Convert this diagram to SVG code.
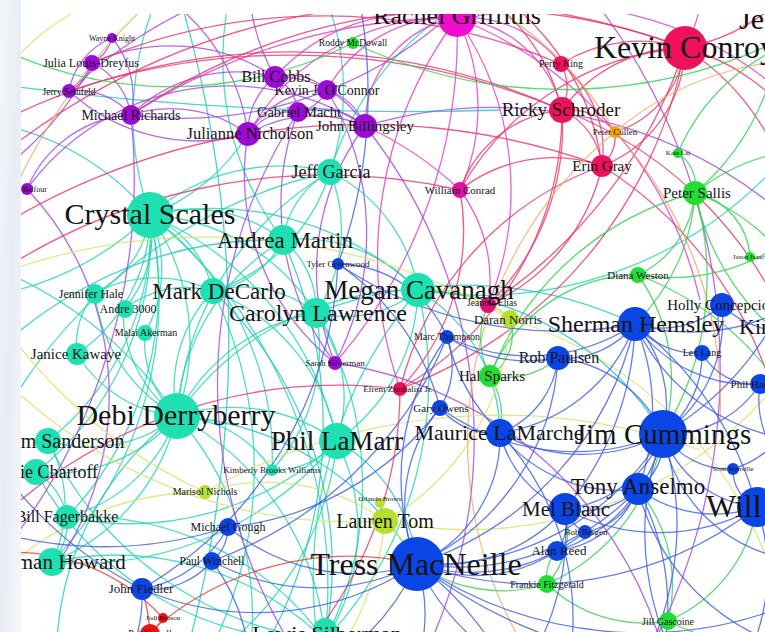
<svg xmlns="http://www.w3.org/2000/svg" width="765" height="632" viewBox="0 0 765 632">
<defs>
<clipPath id="frame"><rect x="21" y="14" width="744" height="618"/></clipPath>
<linearGradient id="margin" x1="0" y1="0" x2="1" y2="1">
<stop offset="0" stop-color="#f4f6fa"/><stop offset="0.5" stop-color="#e8ecf4"/><stop offset="1" stop-color="#f6f7fa"/>
</linearGradient>
<style>
.e path{fill:none;stroke-width:1.3;opacity:.8}
.t{stroke:#22d6b2}.c{stroke:#1cc6c6}.p{stroke:#a445e0}.m{stroke:#e03cc8}.k{stroke:#e8356c}.o{stroke:#f2aa6a}.g{stroke:#32d050}.y{stroke:#d6e468}.b{stroke:#3d5ce4}.r{stroke:#ee3a2a}
.nd text{font-family:"Liberation Serif","Times New Roman",serif;fill:#141414;text-anchor:middle}
.cP{fill:#9d0ad6}.cT{fill:#1fe0b2}.cB{fill:#0a46e6}.cK{fill:#f0115c}.cM{fill:#f20bd0}.cG{fill:#22dd33}.cY{fill:#b6e02e}.cO{fill:#f0a010}.cR{fill:#ee1111}
</style>
</defs>
<rect x="0" y="0" width="765" height="632" fill="#ffffff"/>
<rect x="0" y="0" width="21" height="632" fill="url(#margin)"/>
<g clip-path="url(#frame)">
<g id="edges" class="e">
<path class="t" d="M150 215A150 150 0 0 1 283 240"/>
<path class="t" d="M150 215A110 110 0 0 1 213 291"/>
<path class="t" d="M150 215A210 210 0 0 1 316 313"/>
<path class="t" d="M150 215A300 300 0 0 1 418 290"/>
<path class="t" d="M150 215A220 220 0 0 1 177 416"/>
<path class="t" d="M150 215A100 100 0 0 1 95 293"/>
<path class="t" d="M150 215A110 110 0 0 1 123 310"/>
<path class="t" d="M150 215A170 170 0 0 1 77 354"/>
<path class="t" d="M150 215A200 200 0 0 1 330 172"/>
<path class="t" d="M150 215A320 320 0 0 1 337 441"/>
<path class="t" d="M150 215A270 270 0 0 1 48 441"/>
<path class="t" d="M150 215A300 300 0 0 1 36 472"/>
<path class="t" d="M150 215A130 130 0 0 1 145 333"/>
<path class="t" d="M150 215A330 330 0 0 1 67 517"/>
<path class="t" d="M150 215A380 380 0 0 1 52 562"/>
<path class="t" d="M150 215A300 300 0 0 1 272 470"/>
<path class="t" d="M150 215A300 300 0 0 1 190 -60"/>
<path class="t" d="M150 215A300 300 0 0 1 -60 300"/>
<path class="t" d="M150 215A480 480 0 0 1 325 640"/>
<path class="c" d="M150 215A260 260 0 0 0 -40 120"/>
<path class="t" d="M177 416A140 140 0 0 1 213 291"/>
<path class="t" d="M177 416A190 190 0 0 1 316 313"/>
<path class="t" d="M177 416A290 290 0 0 1 418 290"/>
<path class="t" d="M177 416A220 220 0 0 1 283 240"/>
<path class="t" d="M177 416A180 180 0 0 1 337 441"/>
<path class="t" d="M177 416A130 130 0 0 1 77 354"/>
<path class="t" d="M177 416A140 140 0 0 1 48 441"/>
<path class="t" d="M177 416A160 160 0 0 1 36 472"/>
<path class="t" d="M177 416A160 160 0 0 1 67 517"/>
<path class="t" d="M177 416A210 210 0 0 1 52 562"/>
<path class="t" d="M177 416A280 280 0 0 1 325 640"/>
<path class="t" d="M177 416A160 160 0 0 1 95 293"/>
<path class="t" d="M177 416A100 100 0 0 1 145 333"/>
<path class="t" d="M177 416A130 130 0 0 1 123 310"/>
<path class="t" d="M177 416A120 120 0 0 1 272 470"/>
<path class="t" d="M177 416A310 310 0 0 1 330 172"/>
<path class="t" d="M177 416A300 300 0 0 1 240 700"/>
<path class="c" d="M177 416A300 300 0 0 0 60 700"/>
<path class="c" d="M177 416A300 300 0 0 1 417 564"/>
<path class="t" d="M177 416A400 400 0 0 0 -60 250"/>
<path class="t" d="M283 240A90 90 0 0 1 330 172"/>
<path class="t" d="M283 240A160 160 0 0 1 418 290"/>
<path class="t" d="M283 240A90 90 0 0 1 316 313"/>
<path class="t" d="M283 240A95 95 0 0 1 213 291"/>
<path class="t" d="M330 172A160 160 0 0 1 418 290"/>
<path class="t" d="M330 172A150 150 0 0 1 316 313"/>
<path class="t" d="M330 172A180 180 0 0 1 213 291"/>
<path class="t" d="M418 290A115 115 0 0 1 316 313"/>
<path class="t" d="M418 290A190 190 0 0 1 337 441"/>
<path class="t" d="M316 313A140 140 0 0 1 337 441"/>
<path class="t" d="M213 291A115 115 0 0 1 316 313"/>
<path class="t" d="M213 291A200 200 0 0 1 337 441"/>
<path class="t" d="M337 441A200 200 0 0 1 325 640"/>
<path class="t" d="M337 441A330 330 0 0 1 52 562"/>
<path class="t" d="M337 441A300 300 0 0 1 67 517"/>
<path class="t" d="M418 290A380 380 0 0 1 325 640"/>
<path class="t" d="M316 313A340 340 0 0 1 325 640"/>
<path class="c" d="M213 291A380 380 0 0 1 325 640"/>
<path class="t" d="M48 441A130 130 0 0 1 52 562"/>
<path class="t" d="M36 472A70 70 0 0 1 67 517"/>
<path class="t" d="M67 517A60 60 0 0 1 52 562"/>
<path class="t" d="M77 354A80 80 0 0 1 95 293"/>
<path class="t" d="M123 310A100 100 0 0 1 213 291"/>
<path class="t" d="M95 293A130 130 0 0 1 213 291"/>
<path class="t" d="M418 290A400 400 0 0 0 790 150"/>
<path class="t" d="M330 172A250 250 0 0 0 300 -50"/>
<path class="t" d="M283 240A300 300 0 0 1 240 -40"/>
<path class="t" d="M316 313A180 180 0 0 1 272 470"/>
<path class="t" d="M337 441A80 80 0 0 1 272 470"/>
<path class="t" d="M52 562A300 300 0 0 1 325 640"/>
<path class="t" d="M67 517A300 300 0 0 1 325 640"/>
<path class="c" d="M36 472A320 320 0 0 0 325 640"/>
<path class="t" d="M48 441A350 350 0 0 0 325 640"/>
<path class="c" d="M337 441A160 160 0 0 1 417 564"/>
<path class="c" d="M418 290A170 170 0 0 1 500 433"/>
<path class="c" d="M418 290A300 300 0 0 1 663 434"/>
<path class="c" d="M316 313A400 400 0 0 1 635 324"/>
<path class="t" d="M150 215A200 200 0 0 0 248 134"/>
<path class="t" d="M337 441A300 300 0 0 1 120 700"/>
<path class="t" d="M213 291A400 400 0 0 1 180 700"/>
<path class="c" d="M283 240A450 450 0 0 1 230 700"/>
<path class="t" d="M418 290A450 450 0 0 0 330 700"/>
<path class="t" d="M330 172A500 500 0 0 0 -50 560"/>
<path class="c" d="M283 240A400 400 0 0 0 -60 420"/>
<path class="t" d="M330 172A300 300 0 0 1 620 -40"/>
<path class="c" d="M-40 79A3000 3000 0 0 0 500 110"/>
<path class="c" d="M168 -40A1200 1200 0 0 1 190 640"/>
<path class="p" d="M92 63A40 40 0 0 1 69 91"/>
<path class="p" d="M92 63A70 70 0 0 1 131 115"/>
<path class="p" d="M69 91A70 70 0 0 1 131 115"/>
<path class="p" d="M112 38A40 40 0 0 1 92 63"/>
<path class="p" d="M112 38A90 90 0 0 1 131 115"/>
<path class="p" d="M112 38A70 70 0 0 0 69 91"/>
<path class="p" d="M131 115A130 130 0 0 1 248 134"/>
<path class="p" d="M248 134A70 70 0 0 1 275 77"/>
<path class="p" d="M248 134A55 55 0 0 1 298 112"/>
<path class="p" d="M248 134A130 130 0 0 1 365 126"/>
<path class="p" d="M248 134A90 90 0 0 1 327 90"/>
<path class="p" d="M275 77A55 55 0 0 1 327 90"/>
<path class="p" d="M275 77A45 45 0 0 1 298 112"/>
<path class="p" d="M275 77A100 100 0 0 1 365 126"/>
<path class="p" d="M327 90A40 40 0 0 1 298 112"/>
<path class="p" d="M327 90A60 60 0 0 1 365 126"/>
<path class="p" d="M298 112A70 70 0 0 1 365 126"/>
<path class="p" d="M131 115A150 150 0 0 1 275 77"/>
<path class="p" d="M92 63A190 190 0 0 1 275 77"/>
<path class="p" d="M69 91A190 190 0 0 0 248 134"/>
<path class="p" d="M27 189A250 250 0 0 1 365 126"/>
<path class="p" d="M27 189A120 120 0 0 1 131 115"/>
<path class="p" d="M335 363A240 240 0 0 1 365 126"/>
<path class="p" d="M335 363A280 280 0 0 0 327 90"/>
<path class="p" d="M335 363A240 240 0 0 1 248 134"/>
<path class="p" d="M335 363A260 260 0 0 1 298 112"/>
<path class="p" d="M248 134A200 200 0 0 0 40 -40"/>
<path class="p" d="M275 77A200 200 0 0 1 250 -40"/>
<path class="p" d="M365 126A450 450 0 0 1 790 220"/>
<path class="p" d="M365 126A500 500 0 0 1 400 700"/>
<path class="p" d="M298 112A500 500 0 0 0 330 700"/>
<path class="p" d="M131 115A600 600 0 0 1 -40 600"/>
<path class="p" d="M92 63A300 300 0 0 1 -50 200"/>
<path class="p" d="M131 115A400 400 0 0 0 500 -40"/>
<path class="p" d="M69 91A500 500 0 0 1 440 -40"/>
<path class="p" d="M335 363A400 400 0 0 1 660 640"/>
<path class="p" d="M560 -40A600 600 0 0 1 620 700"/>
<path class="p" d="M27 189A300 300 0 0 1 60 560"/>
<path class="m" d="M457 18A200 200 0 0 1 460 190"/>
<path class="m" d="M457 18A230 230 0 0 0 248 134"/>
<path class="m" d="M457 18A110 110 0 0 0 365 126"/>
<path class="m" d="M457 18A140 140 0 0 0 327 90"/>
<path class="m" d="M457 18A190 190 0 0 0 275 77"/>
<path class="m" d="M457 18A300 300 0 0 1 488 305"/>
<path class="m" d="M457 18A400 400 0 0 0 400 389"/>
<path class="m" d="M457 18A120 120 0 0 1 562 110"/>
<path class="m" d="M457 18A120 120 0 0 1 561 64"/>
<path class="m" d="M457 18A350 350 0 0 1 790 100"/>
<path class="m" d="M457 18A200 200 0 0 0 600 -50"/>
<path class="m" d="M457 18A200 200 0 0 0 300 -40"/>
<path class="m" d="M457 18A500 500 0 0 1 335 363"/>
<path class="m" d="M457 18A400 400 0 0 1 700 300"/>
<path class="m" d="M457 18A600 600 0 0 0 131 115"/>
<path class="m" d="M460 190A150 150 0 0 1 488 305"/>
<path class="m" d="M460 190A350 350 0 0 0 365 126"/>
<path class="k" d="M685 48A150 150 0 0 0 561 64"/>
<path class="k" d="M685 48A150 150 0 0 0 562 110"/>
<path class="k" d="M685 48A130 130 0 0 1 602 166"/>
<path class="k" d="M685 48A100 100 0 0 1 615 132"/>
<path class="k" d="M561 64A50 50 0 0 1 562 110"/>
<path class="k" d="M562 110A70 70 0 0 1 602 166"/>
<path class="k" d="M561 64A110 110 0 0 1 602 166"/>
<path class="k" d="M562 110A60 60 0 0 1 615 132"/>
<path class="k" d="M602 166A40 40 0 0 0 615 132"/>
<path class="k" d="M685 48A200 200 0 0 1 800 130"/>
<path class="k" d="M685 48A250 250 0 0 1 800 260"/>
<path class="k" d="M685 48A150 150 0 0 0 700 -50"/>
<path class="k" d="M685 48A200 200 0 0 0 800 -20"/>
<path class="k" d="M562 110A200 200 0 0 0 400 -40"/>
<path class="k" d="M602 166A250 250 0 0 0 430 -40"/>
<path class="k" d="M685 48A280 280 0 0 0 460 190"/>
<path class="k" d="M562 110A120 120 0 0 0 460 190"/>
<path class="k" d="M602 166A150 150 0 0 0 460 190"/>
<path class="k" d="M685 48A700 700 0 0 0 -50 200"/>
<path class="k" d="M562 110A650 650 0 0 0 -50 150"/>
<path class="k" d="M602 166A700 700 0 0 0 -50 260"/>
<path class="k" d="M400 389A320 320 0 0 0 562 110"/>
<path class="k" d="M400 389A320 320 0 0 1 602 166"/>
<path class="k" d="M400 389A230 230 0 0 0 460 190"/>
<path class="k" d="M488 305A250 250 0 0 0 562 110"/>
<path class="k" d="M488 305A200 200 0 0 0 602 166"/>
<path class="k" d="M685 48A500 500 0 0 1 488 305"/>
<path class="k" d="M685 48A450 450 0 0 1 400 389"/>
<path class="k" d="M602 166A400 400 0 0 1 780 420"/>
<path class="k" d="M562 110A400 400 0 0 1 800 360"/>
<path class="k" d="M685 48A600 600 0 0 0 131 115"/>
<path class="k" d="M561 64A600 600 0 0 0 92 63"/>
<path class="k" d="M562 110A700 700 0 0 0 69 91"/>
<path class="k" d="M-40 300A600 600 0 0 1 460 190"/>
<path class="k" d="M-40 560A500 500 0 0 1 400 389"/>
<path class="k" d="M400 389A400 400 0 0 1 250 700"/>
<path class="o" d="M615 132A300 300 0 0 1 800 60"/>
<path class="o" d="M615 132A350 350 0 0 0 360 -40"/>
<path class="o" d="M615 132A400 400 0 0 1 720 420"/>
<path class="o" d="M-40 420A600 600 0 0 1 200 -40"/>
<path class="o" d="M615 132A400 400 0 0 0 520 640"/>
<path class="g" d="M695 193A40 40 0 0 0 678 153"/>
<path class="g" d="M695 193A70 70 0 0 1 750 257"/>
<path class="g" d="M695 193A100 100 0 0 1 638 275"/>
<path class="g" d="M695 193A200 200 0 0 1 800 150"/>
<path class="g" d="M695 193A200 200 0 0 1 800 280"/>
<path class="g" d="M695 193A250 250 0 0 0 800 350"/>
<path class="g" d="M695 193A250 250 0 0 0 780 -30"/>
<path class="g" d="M695 193A300 300 0 0 0 490 376"/>
<path class="g" d="M638 275A160 160 0 0 0 490 376"/>
<path class="g" d="M695 193A300 300 0 0 1 663 434"/>
<path class="g" d="M695 193A200 200 0 0 1 635 324"/>
<path class="g" d="M638 275A180 180 0 0 1 663 434"/>
<path class="g" d="M638 275A200 200 0 0 0 800 230"/>
<path class="g" d="M638 275A300 300 0 0 1 800 420"/>
<path class="g" d="M353 43A400 400 0 0 1 -50 20"/>
<path class="g" d="M353 43A500 500 0 0 0 800 30"/>
<path class="g" d="M490 376A50 50 0 0 0 510 319"/>
<path class="g" d="M490 376A80 80 0 0 1 488 305"/>
<path class="g" d="M490 376A80 80 0 0 1 500 433"/>
<path class="g" d="M490 376A80 80 0 0 0 558 358"/>
<path class="g" d="M547 584A40 40 0 0 1 557 551"/>
<path class="g" d="M547 584A80 80 0 0 0 565 509"/>
<path class="g" d="M547 584A150 150 0 0 1 417 564"/>
<path class="g" d="M547 584A140 140 0 0 0 668 621"/>
<path class="g" d="M668 621A150 150 0 0 0 638 489"/>
<path class="g" d="M668 621A150 150 0 0 0 757 507"/>
<path class="g" d="M668 621A200 200 0 0 0 800 640"/>
<path class="g" d="M547 584A200 200 0 0 0 663 434"/>
<path class="g" d="M678 153A200 200 0 0 1 800 40"/>
<path class="y" d="M385 521A150 150 0 0 1 417 564"/>
<path class="y" d="M385 521A200 200 0 0 0 205 492"/>
<path class="y" d="M385 521A300 300 0 0 1 300 700"/>
<path class="y" d="M385 521A250 250 0 0 0 510 319"/>
<path class="y" d="M510 319A120 120 0 0 0 418 290"/>
<path class="y" d="M510 319A40 40 0 0 0 488 305"/>
<path class="y" d="M205 492A500 500 0 0 1 -40 250"/>
<path class="y" d="M205 492A300 300 0 0 0 -40 620"/>
<path class="y" d="M385 521A500 500 0 0 1 -40 330"/>
<path class="y" d="M510 319A600 600 0 0 0 -40 290"/>
<path class="y" d="M510 319A400 400 0 0 1 780 600"/>
<path class="y" d="M-20 120A200 200 0 0 1 150 -10"/>
<path class="y" d="M205 492A600 600 0 0 1 700 450"/>
<path class="y" d="M385 521A400 400 0 0 0 780 380"/>
<path class="b" d="M417 564A170 170 0 0 0 565 509"/>
<path class="b" d="M417 564A250 250 0 0 0 638 489"/>
<path class="b" d="M417 564A270 270 0 0 0 663 434"/>
<path class="b" d="M417 564A140 140 0 0 0 500 433"/>
<path class="b" d="M417 564A150 150 0 0 0 557 551"/>
<path class="b" d="M417 564A180 180 0 0 0 585 532"/>
<path class="b" d="M417 564A150 150 0 0 1 440 408"/>
<path class="b" d="M417 564A240 240 0 0 1 447 337"/>
<path class="b" d="M417 564A240 240 0 0 0 558 358"/>
<path class="b" d="M417 564A330 330 0 0 0 635 324"/>
<path class="b" d="M417 564A360 360 0 0 0 757 507"/>
<path class="b" d="M417 564A220 220 0 0 1 212 561"/>
<path class="b" d="M417 564A290 290 0 0 1 142 589"/>
<path class="b" d="M417 564A200 200 0 0 1 228 527"/>
<path class="b" d="M417 564A160 160 0 0 1 400 700"/>
<path class="b" d="M417 564A250 250 0 0 0 600 700"/>
<path class="b" d="M417 564A400 400 0 0 0 800 600"/>
<path class="b" d="M417 564A250 250 0 0 1 250 700"/>
<path class="b" d="M417 564A500 500 0 0 0 800 660"/>
<path class="b" d="M417 564A300 300 0 0 1 520 700"/>
<path class="b" d="M663 434A60 60 0 0 1 638 489"/>
<path class="b" d="M663 434A120 120 0 0 1 565 509"/>
<path class="b" d="M663 434A110 110 0 0 0 757 507"/>
<path class="b" d="M663 434A120 120 0 0 0 635 324"/>
<path class="b" d="M663 434A130 130 0 0 0 558 358"/>
<path class="b" d="M663 434A170 170 0 0 1 500 433"/>
<path class="b" d="M663 434A80 80 0 0 0 733 469"/>
<path class="b" d="M663 434A100 100 0 0 0 702 353"/>
<path class="b" d="M663 434A110 110 0 0 0 760 384"/>
<path class="b" d="M663 434A140 140 0 0 0 722 305"/>
<path class="b" d="M663 434A150 150 0 0 0 800 560"/>
<path class="b" d="M663 434A280 280 0 0 0 700 700"/>
<path class="b" d="M663 434A160 160 0 0 1 557 551"/>
<path class="b" d="M663 434A230 230 0 0 1 440 408"/>
<path class="b" d="M663 434A300 300 0 0 0 800 260"/>
<path class="b" d="M663 434A300 300 0 0 1 620 700"/>
<path class="b" d="M500 433A90 90 0 0 0 558 358"/>
<path class="b" d="M500 433A170 170 0 0 0 635 324"/>
<path class="b" d="M500 433A70 70 0 0 1 440 408"/>
<path class="b" d="M500 433A110 110 0 0 0 565 509"/>
<path class="b" d="M500 433A150 150 0 0 0 638 489"/>
<path class="b" d="M500 433A270 270 0 0 1 560 700"/>
<path class="b" d="M500 433A200 200 0 0 1 447 337"/>
<path class="b" d="M635 324A90 90 0 0 1 558 358"/>
<path class="b" d="M635 324A90 90 0 0 0 722 305"/>
<path class="b" d="M635 324A80 80 0 0 0 702 353"/>
<path class="b" d="M635 324A140 140 0 0 0 760 384"/>
<path class="b" d="M635 324A200 200 0 0 0 800 300"/>
<path class="b" d="M635 324A190 190 0 0 1 447 337"/>
<path class="b" d="M635 324A200 200 0 0 0 800 440"/>
<path class="b" d="M635 324A220 220 0 0 1 638 489"/>
<path class="b" d="M635 324A300 300 0 0 1 565 509"/>
<path class="b" d="M635 324A350 350 0 0 1 757 507"/>
<path class="b" d="M638 489A80 80 0 0 1 565 509"/>
<path class="b" d="M638 489A130 130 0 0 0 757 507"/>
<path class="b" d="M638 489A100 100 0 0 1 557 551"/>
<path class="b" d="M638 489A70 70 0 0 1 585 532"/>
<path class="b" d="M638 489A250 250 0 0 1 650 700"/>
<path class="b" d="M638 489A220 220 0 0 0 800 650"/>
<path class="b" d="M565 509A50 50 0 0 1 557 551"/>
<path class="b" d="M565 509A40 40 0 0 0 585 532"/>
<path class="b" d="M565 509A250 250 0 0 1 500 700"/>
<path class="b" d="M565 509A200 200 0 0 0 757 507"/>
<path class="b" d="M757 507A100 100 0 0 0 800 430"/>
<path class="b" d="M757 507A100 100 0 0 1 800 620"/>
<path class="b" d="M757 507A40 40 0 0 1 733 469"/>
<path class="b" d="M757 507A250 250 0 0 0 800 300"/>
<path class="b" d="M757 507A200 200 0 0 1 720 700"/>
<path class="b" d="M142 589A80 80 0 0 0 212 561"/>
<path class="b" d="M142 589A120 120 0 0 0 228 527"/>
<path class="b" d="M212 561A45 45 0 0 0 228 527"/>
<path class="b" d="M142 589A150 150 0 0 1 100 700"/>
<path class="b" d="M212 561A200 200 0 0 1 250 700"/>
<path class="b" d="M228 527A300 300 0 0 0 440 408"/>
<path class="b" d="M212 561A400 400 0 0 0 447 337"/>
<path class="b" d="M142 589A400 400 0 0 0 338 264"/>
<path class="b" d="M338 264A120 120 0 0 1 447 337"/>
<path class="b" d="M447 337A80 80 0 0 1 440 408"/>
<path class="b" d="M338 264A250 250 0 0 1 440 408"/>
<path class="b" d="M447 337A150 150 0 0 0 558 358"/>
<path class="b" d="M338 264A400 400 0 0 0 635 324"/>
<path class="b" d="M338 264A500 500 0 0 0 350 -40"/>
<path class="b" d="M142 589A400 400 0 0 1 -40 400"/>
<path class="b" d="M228 527A400 400 0 0 1 -40 520"/>
<path class="b" d="M702 353A60 60 0 0 0 760 384"/>
<path class="b" d="M722 305A90 90 0 0 0 800 330"/>
<path class="b" d="M760 384A100 100 0 0 0 800 480"/>
<path class="b" d="M733 469A100 100 0 0 0 800 400"/>
<path class="r" d="M163 618A40 40 0 0 1 150 632"/>
<path class="r" d="M150 632A200 200 0 0 0 142 589"/>
<path class="r" d="M163 618A200 200 0 0 0 -40 560"/>
<path class="r" d="M150 632A300 300 0 0 1 417 564"/>
</g>
<g id="nodes" class="nd">
<g id="n-orlando"><circle class="cY" cx="380" cy="503" r="5"/><text x="380" y="501" font-size="7">Orlando Brown</text></g>
<g id="n-wayne"><circle class="cP" cx="112" cy="38" r="5"/><text x="112" y="41" font-size="8">Wayne Knight</text></g>
<g id="n-balfour"><circle class="cP" cx="27" cy="189" r="6"/><text x="27" y="192" font-size="8">Eric Balfour</text></g>
<g id="n-roddy"><circle class="cG" cx="353" cy="43" r="6"/><text x="353" y="46" font-size="9.5">Roddy McDowall</text></g>
<g id="n-cullen"><circle class="cO" cx="615" cy="132" r="6"/><text x="615" y="135" font-size="9">Peter Cullen</text></g>
<g id="n-kate"><circle class="cG" cx="678" cy="153" r="5"/><text x="678" y="155" font-size="7">Kate Lai</text></g>
<g id="n-jason"><circle class="cG" cx="750" cy="257" r="5"/><text x="750" y="259" font-size="7">Jason Isaacs</text></g>
<g id="n-tyler"><circle class="cB" cx="338" cy="264" r="6"/><text x="338" y="267" font-size="9">Tyler Greenwood</text></g>
<g id="n-sarah"><circle class="cP" cx="335" cy="363" r="7"/><text x="335" y="366" font-size="9">Sarah Silverman</text></g>
<g id="n-kbw"><circle class="cT" cx="272" cy="470" r="6"/><text x="272" y="473" font-size="9">Kimberly Brooks Williams</text></g>
<g id="n-scott"><circle class="cB" cx="733" cy="469" r="6"/><text x="733" y="471" font-size="7">Scott Menville</text></g>
<g id="n-jodi"><circle class="cR" cx="163" cy="618" r="5"/><text x="163" y="620" font-size="7">Jodi Benson</text></g>
<g id="n-perry"><circle class="cK" cx="561" cy="64" r="8"/><text x="561" y="67" font-size="10">Perry King</text></g>
<g id="n-conrad"><circle fill="#e0109e" cx="460" cy="190" r="8"/><text x="460" y="193.5" font-size="11">William Conrad</text></g>
<g id="n-efrem"><circle fill="#e8105e" cx="400" cy="389" r="7"/><text x="398" y="392" font-size="9">Efrem Zimbalist Jr.</text></g>
<g id="n-jeannie"><circle fill="#e0107e" cx="488" cy="305" r="8"/><text x="492" y="305.5" font-size="9.5">Jeannie Elias</text></g>
<g id="n-marc"><circle class="cB" cx="447" cy="337" r="7"/><text x="447" y="340" font-size="10">Marc Thompson</text></g>
<g id="n-weston"><circle class="cG" cx="638" cy="275" r="8"/><text x="638" y="278.5" font-size="11">Diana Weston</text></g>
<g id="n-lex"><circle class="cB" cx="702" cy="353" r="8"/><text x="702" y="356" font-size="10">Lex Lang</text></g>
<g id="n-gary"><circle class="cB" cx="440" cy="408" r="8"/><text x="441" y="411.5" font-size="11">Gary Owens</text></g>
<g id="n-marisol"><circle class="cY" cx="205" cy="492" r="7"/><text x="205" y="495" font-size="10">Marisol Nichols</text></g>
<g id="n-malai"><circle class="cT" cx="145" cy="333" r="8"/><text x="146" y="336" font-size="10">Malai Akerman</text></g>
<g id="n-bob"><circle class="cB" cx="585" cy="532" r="7"/><text x="586" y="535" font-size="9">Bob Bergen</text></g>
<g id="n-jill"><circle class="cG" cx="668" cy="621" r="9"/><text x="668" y="624.5" font-size="10">Jill Gascoine</text></g>
<g id="n-frankie"><circle class="cG" cx="547" cy="584" r="9"/><text x="547" y="587.5" font-size="10">Frankie Fitzgerald</text></g>
<g id="n-julia"><circle class="cP" cx="92" cy="63" r="8"/><text x="91" y="67" font-size="12">Julia Louis-Dreyfus</text></g>
<g id="n-jerry"><circle class="cP" cx="69" cy="91" r="7"/><text x="69" y="94.5" font-size="9.5">Jerry Seinfeld</text></g>
<g id="n-andre"><circle class="cT" cx="125" cy="309" r="9"/><text x="128" y="313" font-size="12">Andre 3000</text></g>
<g id="n-gough"><circle class="cB" cx="228" cy="527" r="9"/><text x="228" y="531" font-size="12">Michael Gough</text></g>
<g id="n-winchell"><circle class="cB" cx="212" cy="561" r="9"/><text x="212" y="565" font-size="11.5">Paul Winchell</text></g>
<g id="n-daran"><circle class="cY" cx="510" cy="319" r="9"/><text x="508" y="323.5" font-size="13">Daran Norris</text></g>
<g id="n-pat"><circle class="cR" cx="150" cy="634" r="10"/><text x="150" y="637" font-size="10">Pat Carroll</text></g>
<g id="n-philh"><circle class="cB" cx="760" cy="384" r="10"/><text x="760" y="387.5" font-size="11">Phil Hartman</text></g>
<g id="n-jhale"><circle class="cT" cx="95" cy="294" r="10"/><text x="91" y="298" font-size="12">Jennifer Hale</text></g>
<g id="n-mrich"><circle class="cP" cx="131" cy="115" r="10"/><text x="131" y="119.5" font-size="14">Michael Richards</text></g>
<g id="n-oconnor"><circle class="cP" cx="327" cy="90" r="10"/><text x="327" y="94.5" font-size="14">Kevin J. O'Connor</text></g>
<g id="n-macht"><circle class="cP" cx="298" cy="112" r="10"/><text x="299" y="116.5" font-size="14.5">Gabriel Macht</text></g>
<g id="n-alan"><circle class="cB" cx="557" cy="551" r="10"/><text x="559" y="555" font-size="13">Alan Reed</text></g>
<g id="n-fiedler"><circle class="cB" cx="142" cy="589" r="11"/><text x="141" y="593" font-size="13">John Fiedler</text></g>
<g id="n-cobbs"><circle class="cP" cx="275" cy="77" r="11"/><text x="276" y="82" font-size="16">Bill Cobbs</text></g>
<g id="n-erin"><circle class="cK" cx="602" cy="166" r="11"/><text x="602" y="171" font-size="15">Erin Gray</text></g>
<g id="n-hal"><circle class="cG" cx="490" cy="376" r="11"/><text x="492" y="381" font-size="15">Hal Sparks</text></g>
<g id="n-janice"><circle class="cT" cx="77" cy="354" r="11"/><text x="76" y="359" font-size="15">Janice Kawaye</text></g>
<g id="n-julianne"><circle class="cP" cx="248" cy="134" r="12"/><text x="250" y="139" font-size="16.5">Julianne Nicholson</text></g>
<g id="n-billingsley"><circle class="cP" cx="365" cy="126" r="12"/><text x="365" y="131" font-size="15">John Billingsley</text></g>
<g id="n-sallis"><circle class="cG" cx="695" cy="193" r="12"/><text x="697" y="198" font-size="15">Peter Sallis</text></g>
<g id="n-holly"><circle class="cB" cx="722" cy="305" r="12"/><text x="722" y="310" font-size="15">Holly Concepcion</text></g>
<g id="n-paulsen"><circle class="cB" cx="558" cy="358" r="12"/><text x="559" y="363" font-size="16">Rob Paulsen</text></g>
<g id="n-fager"><circle class="cT" cx="67" cy="517" r="12"/><text x="67" y="522" font-size="16">Bill Fagerbakke</text></g>
<g id="n-lewis"><circle class="cT" cx="325" cy="630" r="12"/><text x="327" y="641" font-size="22">Lewis Silberman</text></g>
<g id="n-ricky"><circle class="cK" cx="562" cy="110" r="13"/><text x="561" y="116" font-size="19">Ricky Schroder</text></g>
<g id="n-garcia"><circle class="cT" cx="330" cy="172" r="13"/><text x="331" y="178" font-size="18">Jeff Garcia</text></g>
<g id="n-mark"><circle class="cT" cx="213" cy="291" r="13"/><text x="219" y="298.5" font-size="23">Mark DeCarlo</text></g>
<g id="n-sanderson"><circle class="cT" cx="48" cy="441" r="13"/><text x="48" y="447.5" font-size="20">William Sanderson</text></g>
<g id="n-chartoff"><circle class="cT" cx="36" cy="472" r="13"/><text x="36" y="478" font-size="18">Melanie Chartoff</text></g>
<g id="n-lauren"><circle class="cY" cx="385" cy="521" r="13"/><text x="385" y="527.5" font-size="20">Lauren Tom</text></g>
<g id="n-maurice"><circle class="cB" cx="500" cy="433" r="14"/><text x="499" y="440" font-size="22">Maurice LaMarche</text></g>
<g id="n-howard"><circle class="cT" cx="52" cy="562" r="14"/><text x="52" y="569" font-size="21">Sherman Howard</text></g>
<g id="n-andrea"><circle class="cT" cx="283" cy="240" r="15"/><text x="285" y="247.5" font-size="23">Andrea Martin</text></g>
<g id="n-carolyn"><circle class="cT" cx="316" cy="313" r="15"/><text x="318" y="321" font-size="24">Carolyn Lawrence</text></g>
<g id="n-tony"><circle class="cB" cx="638" cy="489" r="16"/><text x="638" y="494" font-size="23">Tony Anselmo</text></g>
<g id="n-mel"><circle class="cB" cx="565" cy="509" r="16"/><text x="566" y="515.5" font-size="21">Mel Blanc</text></g>
<g id="n-sherman"><circle class="cB" cx="635" cy="324" r="17"/><text x="636" y="332" font-size="24">Sherman Hemsley</text></g>
<g id="n-megan"><circle class="cT" cx="418" cy="290" r="17"/><text x="419" y="299" font-size="27">Megan Cavanagh</text></g>
<g id="n-phil"><circle class="cT" cx="337" cy="441" r="18"/><text x="337" y="450" font-size="27">Phil LaMarr</text></g>
<g id="n-rachel"><circle class="cM" cx="457" cy="18" r="19"/><text x="457" y="24" font-size="26">Rachel Griffiths</text></g>
<g id="n-will"><circle class="cB" cx="757" cy="507" r="20"/><text x="706" y="517" font-size="32" style="text-anchor:start">Will Friedle</text></g>
<g id="n-kim"><text x="739" y="334" font-size="22" style="text-anchor:start">Kim Mai Guest</text></g>
<g id="n-jeff"><text x="739" y="29" font-size="30" style="text-anchor:start">Jeff Bennett</text></g>
<g id="n-crystal"><circle class="cT" cx="150" cy="215" r="23"/><text x="150" y="224" font-size="30">Crystal Scales</text></g>
<g id="n-debi"><circle class="cT" cx="177" cy="416" r="23"/><text x="176" y="425" font-size="30">Debi Derryberry</text></g>
<g id="n-jim"><circle class="cB" cx="663" cy="434" r="24"/><text x="663" y="444" font-size="29">Jim Cummings</text></g>
<g id="n-conroy"><circle class="cK" cx="685" cy="48" r="22"/><text x="685" y="58" font-size="32">Kevin Conroy</text></g>
<g id="n-tress"><circle class="cB" cx="417" cy="564" r="27"/><text x="416" y="575" font-size="32">Tress MacNeille</text></g>
</g>
</g>
</svg>
